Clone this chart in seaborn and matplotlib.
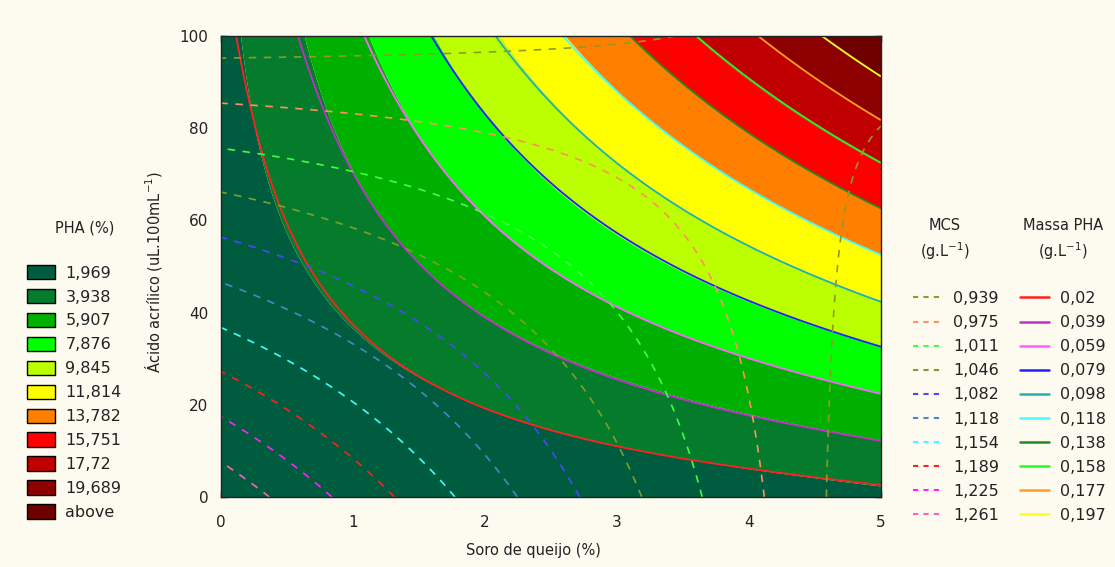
import numpy as np
import matplotlib
matplotlib.use("Agg")
import matplotlib.pyplot as plt
from matplotlib.patches import Patch
from matplotlib.lines import Line2D
from matplotlib.ticker import MultipleLocator
import seaborn as sns

# ---------------------------------------------------------------------------
# Response-surface data: Soro de queijo (%) vs Ácido acrílico (uL/100 mL)
# ---------------------------------------------------------------------------
pha_levels = [1.969, 3.938, 5.907, 7.876, 9.845, 11.814, 13.782, 15.751, 17.72, 19.689]
pha_colors = ['#005C3E', '#047C2C', '#00B000', '#00FF00', '#BBFF00', '#FFFF00',
              '#FF8000', '#FF0000', '#C00000', '#8C0000', '#6E0000']

mass_levels = [0.02, 0.039, 0.059, 0.079, 0.098, 0.118, 0.138, 0.158, 0.177, 0.197]
mass_colors = ['#FF2020', '#C030C8', '#FF60FF', '#2020FF', '#20B0B0', '#40FFFF',
               '#208A20', '#20FF20', '#FFA020', '#FFFF20']

mcs_levels = [0.939, 0.975, 1.011, 1.046, 1.082, 1.118, 1.154, 1.189, 1.225, 1.261]
mcs_colors = ['#8E9A28', '#FF9060', '#40FF40', '#7E9E2E', '#4848FF', '#4A86C8',
              '#40FFFF', '#FF2020', '#FF20FF', '#FF60C0']

# Observed iso-value traces (level, soro %, ácido uL) for each response
pha_trace = [
    (1.969, 0.16, 100), (1.969, 0.29, 73.6), (1.969, 0.38, 58.7), (1.969, 0.57, 51.3),
    (1.969, 0.94, 42.7), (1.969, 1.20, 31.9), (1.969, 1.60, 24.7), (1.969, 2.36, 15.6),
    (1.969, 2.57, 13.7), (1.969, 3.83, 6.5), (1.969, 5.00, 2.6),
    (3.938, 0.65, 100), (3.938, 1.03, 71.4), (3.938, 1.20, 62.3), (3.938, 2.17, 36.2),
    (3.938, 2.57, 31.2), (3.938, 3.83, 18.2), (3.938, 5.00, 12.8),
    (5.907, 1.14, 100), (5.907, 1.35, 86.0), (5.907, 1.96, 61.6), (5.907, 2.72, 45.6),
    (5.907, 3.35, 36.2), (5.907, 3.93, 30.2), (5.907, 5.00, 22.6),
    (7.876, 1.62, 100), (7.876, 1.90, 86.0), (7.876, 2.52, 66.6), (7.876, 3.23, 52.9),
    (7.876, 3.63, 46.6), (7.876, 4.59, 35.6), (7.876, 5.00, 32.3),
    (9.845, 2.09, 100), (9.845, 2.47, 86.0), (9.845, 2.97, 71.6), (9.845, 3.68, 61.5),
    (9.845, 4.48, 49.9), (9.845, 5.00, 42.3),
    (11.814, 2.61, 100), (11.814, 3.48, 77.4), (11.814, 4.23, 62.9), (11.814, 5.00, 51.8),
    (13.782, 3.08, 100), (13.782, 3.73, 85.5), (13.782, 4.48, 72.4), (13.782, 5.00, 62.3),
    (15.751, 3.57, 100), (15.751, 4.23, 84.6), (15.751, 5.00, 71.6),
    (17.72, 4.07, 100), (17.72, 5.00, 81.2),
    (19.689, 4.58, 100), (19.689, 5.00, 91.1),
]

mass_trace = [
    (0.02, 0.11, 99.6), (0.02, 0.215, 81.0), (0.02, 0.44, 61.7), (0.02, 0.72, 47.6),
    (0.02, 1.00, 38.5), (0.02, 1.15, 33.4), (0.02, 1.56, 24.7), (0.02, 2.27, 16.0),
    (0.02, 3.15, 10.8), (0.02, 3.83, 6.5), (0.02, 5.00, 2.6),
    (0.039, 0.61, 100), (0.039, 1.03, 71.4), (0.039, 1.20, 62.3), (0.039, 2.17, 36.2),
    (0.039, 2.57, 31.2), (0.039, 3.83, 18.2), (0.039, 5.00, 12.8),
    (0.059, 1.11, 100), (0.059, 1.33, 86.0), (0.059, 1.96, 61.6), (0.059, 2.72, 45.6),
    (0.059, 3.35, 36.2), (0.059, 3.93, 30.2), (0.059, 5.00, 22.6),
    (0.079, 1.59, 100), (0.079, 1.89, 86.0), (0.079, 2.52, 66.6), (0.079, 3.23, 52.9),
    (0.079, 3.63, 46.6), (0.079, 4.59, 35.6), (0.079, 5.00, 32.3),
    (0.098, 2.08, 100), (0.098, 2.47, 86.0), (0.098, 2.97, 71.6), (0.098, 3.68, 61.5),
    (0.098, 4.48, 49.9), (0.098, 5.00, 42.3),
    (0.118, 2.59, 100), (0.118, 3.48, 77.4), (0.118, 4.23, 62.9), (0.118, 5.00, 51.8),
    (0.138, 3.08, 100), (0.138, 3.73, 85.5), (0.138, 4.48, 72.4), (0.138, 5.00, 62.3),
    (0.158, 3.58, 100), (0.158, 4.23, 84.6), (0.158, 5.00, 71.6),
    (0.177, 4.06, 100), (0.177, 5.00, 81.8),
    (0.197, 4.59, 100), (0.197, 5.00, 91.1),
]

mcs_trace = [
    (0.939, 0.00, 95.3), (0.939, 0.79, 95.4), (0.939, 1.87, 96.3), (0.939, 2.53, 96.7),
    (0.939, 3.02, 98.3), (0.939, 4.59, 1.0), (0.939, 4.64, 38.4), (0.939, 4.69, 54.2),
    (0.939, 4.77, 67.2), (0.939, 4.95, 79.6),
    (0.975, 0.00, 85.3), (0.975, 1.20, 82.4), (0.975, 2.09, 79.0), (0.975, 2.72, 72.4),
    (0.975, 3.35, 62.3), (0.975, 3.60, 52.9), (0.975, 3.88, 36.2), (0.975, 3.98, 23.2),
    (0.975, 4.08, 5.9), (0.975, 4.12, 0.0),
    (1.011, 0.00, 75.5), (1.011, 1.00, 72.0), (1.011, 1.20, 69.2), (1.011, 1.89, 63.0),
    (1.011, 3.15, 34.7), (1.011, 3.40, 21.0), (1.011, 3.58, 8.7), (1.011, 3.66, 0.0),
    (1.046, 0.00, 65.8), (1.046, 1.00, 60.0), (1.046, 1.20, 55.7), (1.046, 1.71, 49.2),
    (1.046, 2.29, 36.2), (1.046, 2.62, 28.2), (1.046, 2.95, 14.5), (1.046, 3.18, 0.0),
    (1.082, 0.00, 56.1), (1.082, 1.23, 42.7), (1.082, 1.96, 28.2), (1.082, 2.34, 14.5),
    (1.082, 2.70, 0.0),
    (1.118, 0.00, 45.7), (1.118, 0.32, 42.7), (1.118, 1.00, 33.4), (1.118, 1.64, 18.9),
    (1.118, 2.26, 0.0),
    (1.154, 0.00, 37.2), (1.154, 0.75, 25.4), (1.154, 1.30, 14.5), (1.154, 1.75, 0.0),
    (1.189, 0.00, 27.1), (1.189, 0.75, 13.9), (1.189, 1.32, 0.0),
    (1.225, 0.00, 17.8), (1.225, 0.50, 8.7), (1.225, 0.86, 0.0),
    (1.261, 0.00, 7.8), (1.261, 0.33, 0.0),
]

x_ticks = [0, 1, 2, 3, 4, 5]
y_ticks = [0, 20, 40, 60, 80, 100]


def poly_terms(x, y, degree):
    x = np.asarray(x, float) / 5.0
    y = np.asarray(y, float) / 100.0
    cols = [x ** i * y ** j for i in range(degree + 1) for j in range(degree + 1 - i)]
    return np.stack(cols, axis=-1)


def fit_response(trace, degree):
    """Least-squares polynomial response surface through the iso-value traces."""
    lv, xs, ys = (np.array(c, float) for c in zip(*trace))
    coef, *_ = np.linalg.lstsq(poly_terms(xs, ys, degree), lv, rcond=None)
    return coef


def evaluate(coef, X, Y, degree):
    return poly_terms(X, Y, degree) @ coef


# ---------------------------------------------------------------------------
# Figure
# ---------------------------------------------------------------------------
sns.set_style("ticks")
plt.rcParams['font.family'] = ['DejaVu Sans']
bg = '#FDFAF0'
ink = '#222222'

W, H = 1115, 567
fig = plt.figure(figsize=(W / 100, H / 100), dpi=100, facecolor=bg)
ax = fig.add_axes([221 / W, 1 - 497 / H, 660 / W, 461 / H])

gx, gy = np.meshgrid(np.linspace(0, 5, 401), np.linspace(0, 100, 401))
Z_pha = evaluate(fit_response(pha_trace, 3), gx, gy, 3)
Z_mass = evaluate(fit_response(mass_trace, 3), gx, gy, 3)
Z_mcs = evaluate(fit_response(mcs_trace, 2), gx, gy, 2)

# PHA (%) filled bands, Massa PHA solid isolines, MCS dashed isolines
lo = min(Z_pha.min(), pha_levels[0]) - 1
hi = max(Z_pha.max(), pha_levels[-1]) + 1
ax.contourf(gx, gy, Z_pha, levels=[lo] + pha_levels + [hi], colors=pha_colors,
            antialiased=True)
ax.contour(gx, gy, Z_mass, levels=mass_levels, colors=mass_colors, linewidths=1.3)
ax.contour(gx, gy, Z_mcs, levels=mcs_levels, colors=mcs_colors, linewidths=1.2,
           linestyles=[(0, (4.5, 4.5))] * len(mcs_levels))

ax.set_xlim(0, 5)
ax.set_ylim(0, 100)
ax.set_xticks(x_ticks)
ax.set_yticks(y_ticks)
ax.xaxis.set_minor_locator(MultipleLocator(0.25))
ax.yaxis.set_minor_locator(MultipleLocator(4))
ax.tick_params(which='both', direction='in', top=True, right=True, color='black',
               labelsize=11, labelcolor=ink, width=1)
ax.tick_params(axis='x', which='major', length=4, pad=13)
ax.tick_params(axis='y', which='major', length=4, pad=9)
ax.tick_params(which='minor', length=3)
for s in ax.spines.values():
    s.set_color(ink)
    s.set_linewidth(1)

ax.set_xlabel('Soro de queijo (%)', fontsize=10.5, color=ink)
ax.set_ylabel('Ácido acrílico (uL.100mL$^{-1}$)', fontsize=10.5, color=ink)
ax.xaxis.set_label_coords((533 - 221) / 660, -(543 - 497) / 461)
ax.yaxis.set_label_coords(-(221 - 164) / 660, (497 - 272) / 461)


def fmt(v):
    return f"{v:g}".replace('.', ',')


# Legend: PHA (%)
pha_handles = [Patch(facecolor=c, edgecolor='black', linewidth=1) for c in pha_colors]
pha_labels = [fmt(v) for v in pha_levels] + ['above']
fig.text(85 / W, 1 - 228 / H, 'PHA (%)', ha='center', va='center', fontsize=10.5, color=ink)
fig.legend(pha_handles, pha_labels, loc='upper left', bbox_to_anchor=(27 / W, 1 - 265 / H),
           frameon=False, fontsize=11.5, handlelength=1.75, handleheight=1.0,
           labelspacing=0.52, handletextpad=0.65, borderpad=0, borderaxespad=0,
           labelcolor=ink)

# Legend: MCS (dashed lines)
mcs_handles = [Line2D([], [], color=c, lw=1.5, linestyle=(0, (2.5, 2.5))) for c in mcs_colors]
fig.text(945 / W, 1 - 226 / H, 'MCS', ha='center', va='center', fontsize=10.5, color=ink)
fig.text(945 / W, 1 - 251 / H, '(g.L$^{-1}$)', ha='center', va='center', fontsize=10.5,
         color=ink)
fig.legend(mcs_handles, [fmt(v) for v in mcs_levels], loc='upper left',
           bbox_to_anchor=(913 / W, 1 - 291 / H), frameon=False, fontsize=11.5,
           handlelength=1.8, labelspacing=0.57, handletextpad=0.7, borderpad=0,
           borderaxespad=0, labelcolor=ink)

# Legend: Massa PHA (solid lines)
mass_handles = [Line2D([], [], color=c, lw=1.8) for c in mass_colors]
fig.text(1063 / W, 1 - 226 / H, 'Massa PHA', ha='center', va='center', fontsize=10.5,
         color=ink)
fig.text(1063 / W, 1 - 251 / H, '(g.L$^{-1}$)', ha='center', va='center', fontsize=10.5,
         color=ink)
fig.legend(mass_handles, [fmt(v) for v in mass_levels], loc='upper left',
           bbox_to_anchor=(1020 / W, 1 - 291 / H), frameon=False, fontsize=11.5,
           handlelength=1.8, labelspacing=0.57, handletextpad=0.7, borderpad=0,
           borderaxespad=0, labelcolor=ink)

fig.savefig('out.png', dpi=100, facecolor=bg)
